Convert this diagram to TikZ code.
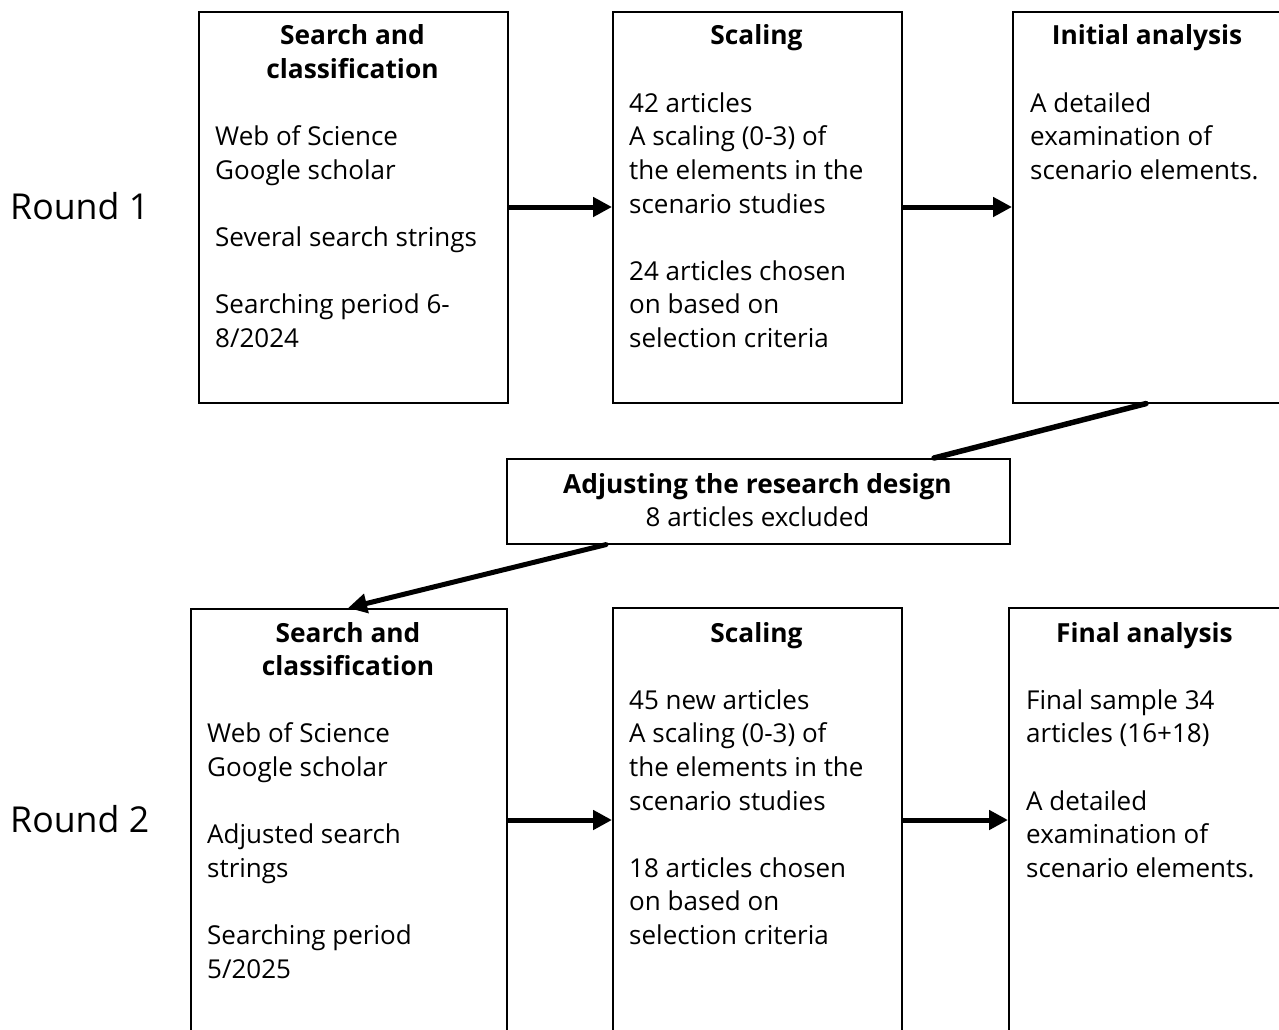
\documentclass[tikz,border=0pt]{standalone}
\usepackage{fontspec}
\setmainfont{Open Sans}
\usetikzlibrary{arrows.meta,calc}
\tikzset{
  box/.style={draw=black, line width=1.6pt, rectangle, anchor=north west, inner sep=0pt},
  body/.style={anchor=base west, align=left, inner sep=0pt, font=\fontsize{26}{33.6}\selectfont},
  ttl/.style={anchor=base, align=center, inner sep=0pt, font=\fontsize{26.3}{33.6}\selectfont\bfseries},
  rnd/.style={anchor=base west, inner sep=0pt, font=\fontsize{35.7}{40}\selectfont},
  arr/.style={line width=5pt, -{Triangle[length=19pt,width=19pt]}},
  conn/.style={line width=5.5pt, line cap=round},
}
\begin{document}
\begin{tikzpicture}[x=1pt,y=-1pt]
\useasboundingbox (0,0) rectangle (1279,1030);
\fill[white] (0,0) rectangle (1279,1030);
\clip (0,0) rectangle (1279,1030);
% boxes
\node[box, minimum width=309pt, minimum height=391pt] (t1) at (198,11) {};
\node[box, minimum width=289pt, minimum height=391pt] (t2) at (612,11) {};
\node[box, minimum width=270pt, minimum height=391pt] (t3) at (1012,11) {};
\node[box, minimum width=503pt, minimum height=85pt] (m) at (506,458) {};
\node[box, minimum width=316pt, minimum height=440pt] (b1) at (190,608) {};
\node[box, minimum width=289pt, minimum height=440pt] (b2) at (612,607) {};
\node[box, minimum width=273pt, minimum height=440pt] (b3) at (1008,607) {};
% round labels
\node[rnd] (r1) at (10,219) {Round 1};
\node[rnd] (r2) at (10,832) {Round 2};
% top row text (multi-line nodes are placed by the baseline of their last line)
\node[ttl] (t1t) at (352.5,78.6) {Search and\\classification};
\node[body] (t1b) at (215,347.4) {Web of Science\\Google scholar\\[33.6pt]Several search strings\\[33.6pt]Searching period 6-\\8/2024};
\node[ttl] (t2t) at (756.5,45) {Scaling};
\node[body] (t2b) at (629,347.4) {42 articles\\A scaling (0-3) of\\the elements in the\\scenario studies\\[33.6pt]24 articles chosen\\on based on\\selection criteria};
\node[ttl] (t3t) at (1147,45) {Initial analysis};
\node[body] (t3b) at (1030,179.4) {A detailed\\examination of\\scenario elements.};
% middle
\node[ttl] (mt) at (757.5,493.5) {Adjusting the research design};
\node[anchor=base, inner sep=0pt, font=\fontsize{26}{33.6}\selectfont] (mb) at (757.5,526.7) {8 articles excluded};
% bottom row text
\node[ttl] (b1t) at (348,675.6) {Search and\\classification};
\node[body] (b1b) at (207,978) {Web of Science\\Google scholar\\[33.6pt]Adjusted search\\strings\\[33.6pt]Searching period\\5/2025};
\node[ttl] (b2t) at (756.5,642) {Scaling};
\node[body] (b2b) at (629,944.4) {45 new articles\\A scaling (0-3) of\\the elements in the\\scenario studies\\[33.6pt]18 articles chosen\\on based on\\selection criteria};
\node[ttl] (b3t) at (1144.5,642) {Final analysis};
\node[body] (b3b) at (1026,877.2) {Final sample 34\\articles (16+18)\\[33.6pt]A detailed\\examination of\\scenario elements.};
% connectors
\draw[arr] (t1.east |- 0,207) -- (t2.west |- 0,207);
\draw[arr] (t2.east |- 0,207) -- (t3.west |- 0,207);
\draw[arr] (b1.east |- 0,820) -- (b2.west |- 0,820);
\draw[arr] (b2.east |- 0,820) -- (b3.west |- 0,820);
\draw[conn] ([xshift=134pt]t3.south west) -- ([xshift=428pt]m.north west);
\draw[line width=5pt, line cap=round, -{Triangle[length=19pt,width=19pt]}] ([xshift=100pt]m.south west) -- ([xshift=158pt]b1.north west);
\end{tikzpicture}
\end{document}
